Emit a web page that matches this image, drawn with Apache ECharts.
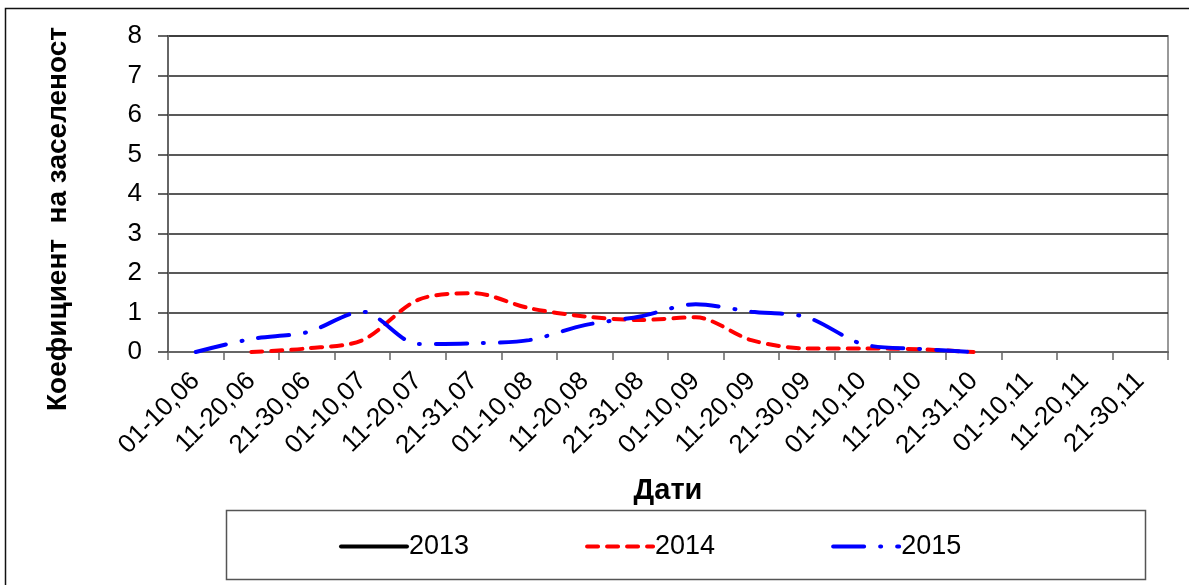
<!DOCTYPE html>
<html>
<head>
<meta charset="utf-8">
<script src="https://cdn.jsdelivr.net/npm/echarts@6/dist/echarts.min.js"></script>
<style>html,body{margin:0;padding:0;background:#fff;}#c{width:1189px;height:585px;}</style>
</head>
<body>
<div id="c"></div>
<script>
const categories = ['01-10,06','11-20,06','21-30,06','01-10,07','11-20,07','21-31,07','01-10,08','11-20,08','21-31,08','01-10,09','11-20,09','21-30,09','01-10,10','11-20,10','21-31,10','01-10,11','11-20,11','21-30,11'];
const seriesNames = ['2013','2014','2015'];
const values2013 = [null,null,null,null,null,null,null,null,null,null,null,null,null,null,null,null,null,null];
const values2014 = [null,0,0.09,0.3,1.32,1.49,1.11,0.9,0.81,0.88,0.3,0.09,0.09,0.07,0,null,null,null];
const values2015 = [0,0.33,0.5,1.02,0.2,0.22,0.3,0.68,0.9,1.21,1.02,0.88,0.2,0.08,0,null,null,null];
const yTicks = {min:0, max:8, interval:1};
const yName = 'Коефициент  на заселеност';
const xName = 'Дати';

const FONT = '"Liberation Sans", Arial, sans-serif';
const chart = echarts.init(document.getElementById('c'), null, {renderer:'canvas'});
chart.setOption({
  animation:false,
  backgroundColor:'#fff',
  grid:{left:168, right:21, top:36, bottom:233, show:true, borderColor:'#999', borderWidth:2, containLabel:false},
  graphic:[
    {type:'rect', left:3, top:6, shape:{width:1200, height:600}, style:{fill:null, stroke:'#111', lineWidth:1.5}, silent:true, z:-1},
    {type:'rect', left:224, top:508, shape:{width:919, height:69}, style:{fill:null, stroke:'#555', lineWidth:1.5}, silent:true}
  ],
  legend:{
    data:seriesNames, left:334, top:528, itemWidth:66, itemHeight:4, itemGap:116,
    itemStyle:{opacity:0},
    lineStyle:{width:4, cap:'round'},
    textStyle:{fontFamily:FONT, fontSize:27, color:'#000', padding:[0,0,0,-3]},
  },
  xAxis:{
    type:'category', data:categories, boundaryGap:true,
    name:xName, nameLocation:'middle', nameGap:124,
    nameTextStyle:{fontFamily:FONT, fontSize:29, fontWeight:'bold', color:'#000'},
    axisLine:{lineStyle:{color:'#666', width:2}},
    axisTick:{show:true, length:8, lineStyle:{color:'#666', width:1.5}},
    axisLabel:{interval:0, rotate:45, fontFamily:FONT, fontSize:26, color:'#000', margin:25}
  },
  yAxis:{
    type:'value', min:yTicks.min, max:yTicks.max, interval:yTicks.interval,
    name:yName, nameLocation:'middle', nameGap:96, nameRotate:90,
    nameTextStyle:{fontFamily:FONT, fontSize:28, fontWeight:'bold', color:'#000', padding:[0,50,0,0]},
    axisLine:{show:true, lineStyle:{color:'#666', width:2}},
    axisTick:{show:true, length:10, lineStyle:{color:'#333', width:1.5}},
    axisLabel:{fontFamily:FONT, fontSize:26, color:'#000', margin:26},
    splitLine:{show:true, lineStyle:{color:'#222', width:1.5}}
  },
  series:[
    {name:seriesNames[0], type:'line', data:values2013, symbol:'none', smooth:0.3,
     lineStyle:{color:'#000', width:4, cap:'round'}, itemStyle:{color:'#000'}},
    {name:seriesNames[1], type:'line', data:values2014, symbol:'none', smooth:0.3,
     lineStyle:{color:'#ff0000', width:4, type:[11,9], cap:'round'}, itemStyle:{color:'#ff0000'}},
    {name:seriesNames[2], type:'line', data:values2015, symbol:'none', smooth:0.3,
     lineStyle:{color:'#0000ff', width:4, type:[31,16,1,16], cap:'round'}, itemStyle:{color:'#0000ff'}}
  ]
});
</script>
</body>
</html>
